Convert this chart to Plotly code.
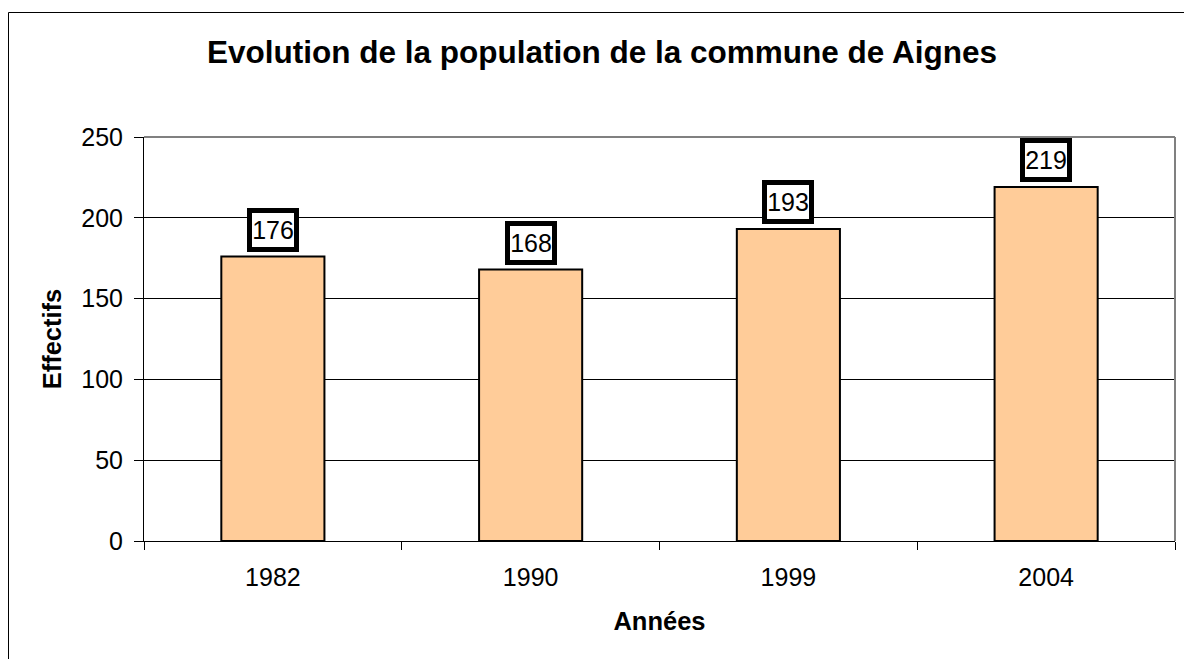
import plotly.graph_objects as go

years = ["1982", "1990", "1999", "2004"]
population = [176, 168, 193, 219]
y_ticks = [0, 50, 100, 150, 200, 250]

title_text = "Evolution de la population de la commune de Aignes"
x_title = "Années"
y_title = "Effectifs"

FONT = "Arial, Liberation Sans, sans-serif"

fig = go.Figure()
fig.add_trace(go.Bar(
    x=years, y=population,
    marker=dict(color="#FFCC99", line=dict(color="#000000", width=2)),
    width=0.4,
    hoverinfo="x+y",
))

for i, v in enumerate(population):
    fig.add_annotation(
        x=i, y=v, xref="x", yref="y",
        text=str(v), showarrow=False,
        yanchor="bottom", yshift=5,
        width=42, height=34,
        font=dict(family=FONT, size=25, color="#000000"),
        bgcolor="#FFFFFF", bordercolor="#000000", borderwidth=5, borderpad=0,
    )

# page body has an 8px margin, so the figure starts at (8, 8)
W, H = 1184, 651
L, R, T, B = 136, 17, 129, 118
pw, ph = W - L - R, H - T - B

fig.update_layout(
    width=W, height=H,
    margin=dict(l=L, r=R, t=T, b=B, autoexpand=False),
    paper_bgcolor="#FFFFFF", plot_bgcolor="#FFFFFF",
    showlegend=False,
    font=dict(family=FONT, size=25, color="#000000"),
    title=dict(
        text="<b>" + title_text + "</b>",
        x=(594 - L) / pw, xref="paper", xanchor="center",
        y=1 - 44 / H, yref="container", yanchor="middle",
        font=dict(family=FONT, size=31.5, color="#000000"),
    ),
    xaxis=dict(
        type="category",
        categoryorder="array", categoryarray=years,
        range=[-0.5, len(years) - 0.5],
        automargin=False,
        showline=True, linecolor="#000000", linewidth=1,
        ticks="outside", ticklen=8, tickcolor="#000000", tickwidth=1,
        tickson="boundaries", tickangle=0,
        ticklabelstandoff=14,
        showgrid=False,
        tickfont=dict(family=FONT, size=25),
        title=dict(text="<b>" + x_title + "</b>", font=dict(family=FONT, size=25.5), standoff=22),
    ),
    yaxis=dict(
        range=[0, 250],
        tickvals=y_ticks,
        automargin=False,
        showline=True, linecolor="#000000", linewidth=1,
        ticks="outside", ticklen=9, tickcolor="#000000", tickwidth=1,
        ticklabelstandoff=6,
        showgrid=True, gridcolor="#000000", gridwidth=1,
        zeroline=False,
        tickfont=dict(family=FONT, size=25),
        title=dict(text="<b>" + y_title + "</b>", font=dict(family=FONT, size=25.5), standoff=12),
    ),
    shapes=[
        dict(type="line", xref="paper", yref="paper", x0=0, x1=1, y0=1, y1=1,
             line=dict(color="#808080", width=2)),
        dict(type="line", xref="paper", yref="paper", x0=1, x1=1, y0=0, y1=1,
             line=dict(color="#808080", width=2)),
        dict(type="rect", xref="paper", yref="paper",
             x0=(0.5 - L) / pw, x1=(W + 20 - L) / pw,
             y0=(T + ph - (H + 20)) / ph, y1=(T + ph - 4.5) / ph,
             line=dict(color="#000000", width=1), layer="below"),
    ],
)

fig.write_html("out.html")
